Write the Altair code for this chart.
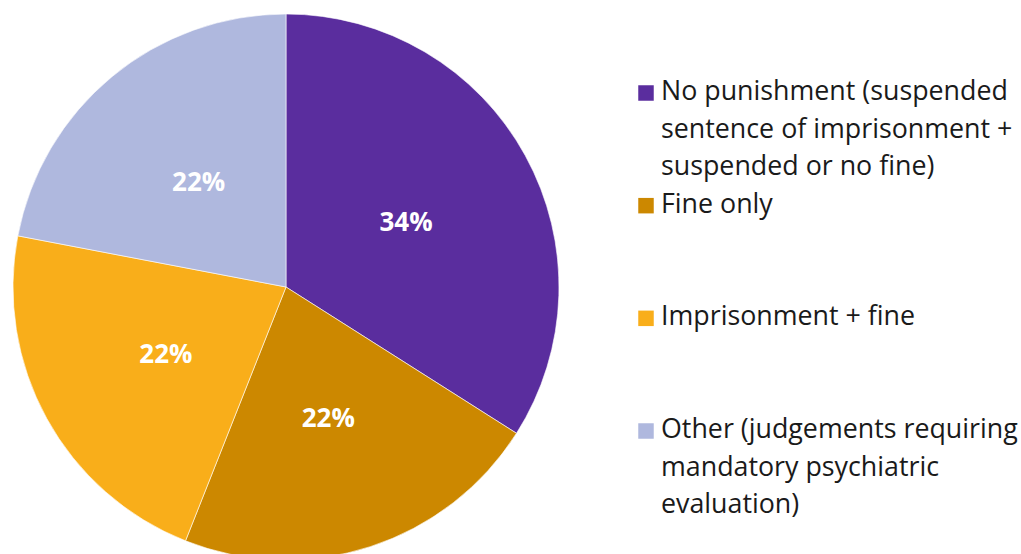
import altair as alt
import pandas as pd

categories = [
    "No punishment (suspended\nsentence of imprisonment +\nsuspended or no fine)",
    "Fine only",
    "Imprisonment + fine",
    "Other (judgements requiring\nmandatory psychiatric\nevaluation)",
]
values = [34, 22, 22, 22]
labels = ["34%", "22%", "22%", "22%"]
colors = ["#5a2d9e", "#cc8800", "#f9ae1a", "#afb8de"]

df = pd.DataFrame({
    "cat": categories,
    "value": values,
    "label": labels,
    "idx": list(range(len(categories))),
})

color = alt.Color("cat:N", scale=alt.Scale(domain=categories, range=colors), legend=None)

base = alt.Chart(df).encode(
    theta=alt.Theta("value:Q", stack=True),
    order=alt.Order("idx:Q"),
)

pie = base.mark_arc(stroke="white", strokeWidth=0.6).encode(
    color=color,
    x=alt.value(286),
    y=alt.value(287),
    radius=alt.value(273),
)

pie_text = base.mark_text(
    font="Open Sans", fontWeight="bold", fontSize=26, color="white",
    align="center", baseline="middle",
).encode(
    text="label:N",
    x=alt.value(286),
    y=alt.value(289),
    radius=alt.value(137),
)

ypos = alt.Y("idx:Q", scale=alt.Scale(domain=[0, 3], range=[93, 431]), axis=None)

leg_sq = alt.Chart(df).mark_square(size=240, opacity=1).encode(
    x=alt.value(646),
    y=ypos,
    color=color,
)

leg_txt = alt.Chart(df).mark_text(
    font="Open Sans", fontSize=26.8, color="#1a1a1a", align="left",
    baseline="alphabetic", lineBreak="\n", lineHeight=37.5, dy=7,
).encode(
    x=alt.value(661),
    y=ypos,
    text="cat:N",
)

chart = alt.layer(pie, pie_text, leg_sq, leg_txt).properties(
    width=1021, height=554, padding=0,
    autosize=alt.AutoSizeParams(type="none"),
).configure_view(stroke=None)

chart.save("out.html", embed_options={"renderer": "svg", "actions": False})
